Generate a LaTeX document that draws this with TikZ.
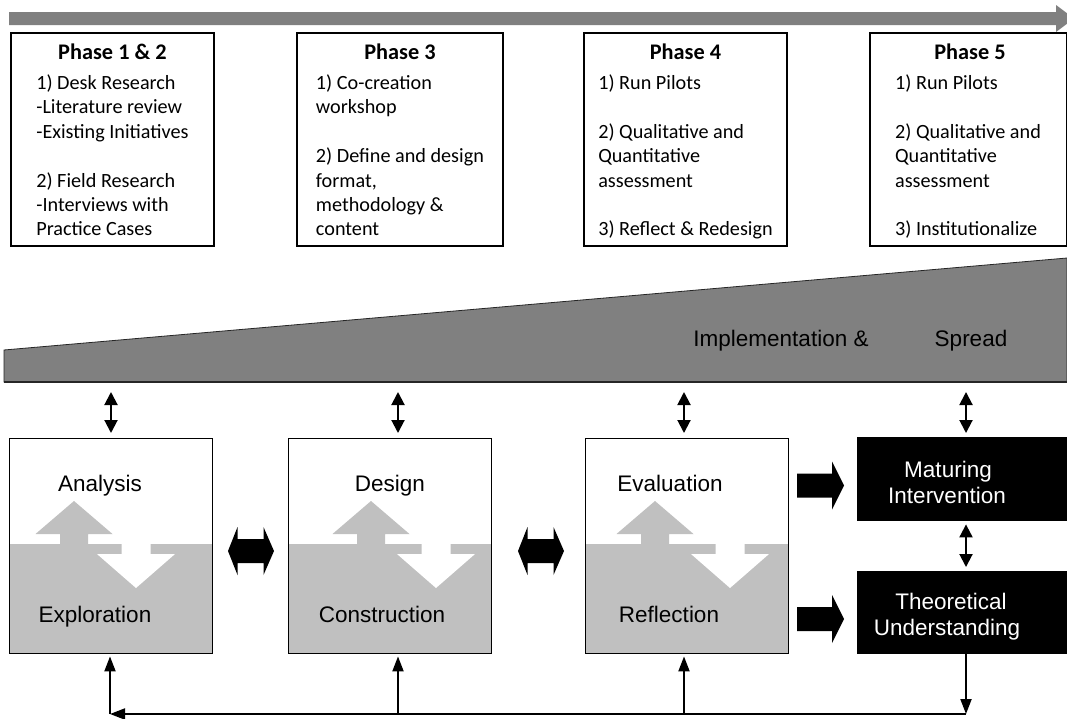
\documentclass[tikz,border=0pt]{standalone}
\usepackage{fontspec}
\setmainfont{Carlito}
\newfontfamily\arialf{Liberation Sans}
\usetikzlibrary{arrows.meta,calc}
\definecolor{bargray}{HTML}{808080}
\definecolor{lightgray}{HTML}{C0C0C0}
\begin{document}
\begin{tikzpicture}[x=1pt,y=-1pt,
  phasebox/.style={draw=black,line width=1.9pt,fill=white,anchor=north west,inner sep=0pt,minimum height=213pt},
  phasetitle/.style={anchor=base,font=\fontsize{22.3}{26}\selectfont\bfseries,inner sep=0pt},
  phasetext/.style={anchor=base,font=\fontsize{20.2}{24.4}\selectfont,inner sep=0pt},
  cyclebox/.style={draw=black,line width=1.4pt,anchor=north west,inner sep=0pt,minimum width=203pt,minimum height=215pt},
  lbl/.style={anchor=base,font=\arialf\fontsize{22.5}{26}\selectfont,inner sep=0pt},
  wlbl/.style={lbl,text=white},
  blackbox/.style={fill=black,anchor=north west,inner sep=0pt,minimum width=218pt},
  dblarrow/.style={line width=2pt,{Triangle[width=13pt,length=13pt]}-{Triangle[width=13pt,length=13pt]}},
  onearrow/.style={line width=2pt,-{Triangle[width=11pt,length=15pt]}},
  fatarrow/.style={fill=black}
]
\useasboundingbox (0,0) rectangle (1067,718);
\fill[white] (0,0) rectangle (1067,718);

% top progress arrow
\fill[bargray] (9,12) -- (1056,12) -- (1056,5) -- (1074,18.5) -- (1056,32) -- (1056,25) -- (9,25) -- cycle;

% phase boxes
\node[phasebox,minimum width=203pt] (p1) at (10,32) {};
\node[phasebox,minimum width=206pt] (p3) at (296,32) {};
\node[phasebox,minimum width=203pt] (p4) at (583,32) {};
\node[phasebox,minimum width=197pt] (p5) at (869,32) {};

\node[phasetitle] (p1t) at (p1.north |- 0,59.5) {Phase 1 \& 2};
\node[phasetitle] (p3t) at (p3.north |- 0,59.5) {Phase 3};
\node[phasetitle] (p4t) at (p4.north |- 0,59.5) {Phase 4};
\node[phasetitle] (p5t) at (970,59.5) {Phase 5};

\node[phasetext] (p1b) at (p1.north |- 0,89.5) {\begin{tabular}[t]{@{}l@{}}1) Desk Research\\ -Literature review\\ -Existing Initiatives\\ \\ 2) Field Research\\ -Interviews with\\ Practice Cases\end{tabular}};
\node[phasetext] (p3b) at (p3.north |- 0,89.5) {\begin{tabular}[t]{@{}l@{}}1) Co-creation\\ workshop\\ \\ 2) Define and design\\ format,\\ methodology \&\\ content\end{tabular}};
\node[phasetext] (p4b) at (p4.north |- 0,89.5) {\begin{tabular}[t]{@{}l@{}}1) Run Pilots\\ \\ 2) Qualitative and\\ Quantitative\\ assessment\\ \\ 3) Reflect \& Redesign\end{tabular}};
\node[phasetext] (p5b) at (968,89.5) {\begin{tabular}[t]{@{}l@{}}1) Run Pilots\\ \\ 2) Qualitative and\\ Quantitative\\ assessment\\ \\ 3) Institutionalize\end{tabular}};

% wedge
\filldraw[fill=bargray,draw=black!85,line width=0.8pt] (4,382) -- (4,350) -- (1067,258) -- (1067,382) -- cycle;
\draw[black!85,line width=1.6pt] (4,382) -- (1067,382);
\node[lbl] (impl) at (781,346) {Implementation \&};
\node[lbl] (spread) at (971,346) {Spread};

% cycle boxes: fills and inner arrows
\foreach \bx/\ux/\dx in {9/74/136, 288/371/436, 585/655/730}{
  \fill[lightgray] (\bx,544) rectangle (\bx+203,653);
  \fill[lightgray] (\ux,501) -- (\ux+38.5,534) -- (\ux+14,534) -- (\ux+14,545) -- (\ux-14,545) -- (\ux-14,534) -- (\ux-38.5,534) -- cycle;
  \fill[white] (\dx-14.5,543.5) -- (\dx+14.5,543.5) -- (\dx+14.5,554) -- (\dx+39,554) -- (\dx,588) -- (\dx-39,554) -- (\dx-14.5,554) -- cycle;
}
\node[cyclebox] (b1) at (9,438) {};
\node[cyclebox] (b2) at (288,438) {};
\node[cyclebox] (b3) at (585,438) {};

\node[lbl] (analysis) at (100,491) {Analysis};
\node[lbl] (design) at (390,491) {Design};
\node[lbl] (evaluation) at (670,491) {Evaluation};
\node[lbl] (exploration) at (95,622) {Exploration};
\node[lbl] (construction) at (382,622) {Construction};
\node[lbl] (reflection) at (669,622) {Reflection};

% black boxes
\node[blackbox,minimum height=84pt] (mi) at (857,437) {};
\node[blackbox,minimum height=83pt] (tu) at (857,571) {};
\node[wlbl] (mi1) at (948,477) {Maturing};
\node[wlbl] (mi2) at (947,503.5) {Intervention};
\node[wlbl] (tu1) at (951,609) {Theoretical};
\node[wlbl] (tu2) at (947,635) {Understanding};

% fat double arrows between cycle boxes
\foreach \cx in {251,541}{
  \fill[fatarrow] (\cx-23,551) -- (\cx-13.5,527) -- (\cx-13.5,539) -- (\cx+12.5,539) -- (\cx+12.5,527) -- (\cx+23,551) -- (\cx+12.5,575) -- (\cx+12.5,563) -- (\cx-13.5,563) -- (\cx-13.5,575) -- cycle;
}
% fat arrows to black boxes
\foreach \cy in {485.5,619}{
  \fill[fatarrow] (797,\cy-12) -- (832,\cy-12) -- (832,\cy-24) -- (844,\cy) -- (832,\cy+24) -- (832,\cy+12) -- (797,\cy+12) -- cycle;
}

% thin double arrows from wedge
\coordinate (t1) at (111,392);
\coordinate (t2) at (398,392);
\coordinate (t3) at (684,392);
\coordinate (t4) at (966,392);
\draw[dblarrow,shorten >=5pt] (t1) -- (t1 |- b1.north);
\draw[dblarrow,shorten >=5pt] (t2) -- (t2 |- b2.north);
\draw[dblarrow,shorten >=5pt] (t3) -- (t3 |- b3.north);
\draw[dblarrow,shorten >=4pt] (t4) -- (t4 |- mi.north);
\draw[dblarrow,shorten <=3pt,shorten >=4pt] (mi.south -| t4) -- (tu.north -| t4);

% feedback loop
\coordinate (f4) at (966,714);
\coordinate (f1) at (110,714);
\coordinate (f2) at (398,714);
\coordinate (f3) at (684,714);
\draw[onearrow] (tu.south -| f4) -- (f4);
\draw[onearrow] (f4) -- (f1);
\draw[onearrow,shorten >=2pt] (f1) -- (f1 |- b1.south);
\draw[onearrow,shorten >=2pt] (f2) -- (f2 |- b2.south);
\draw[onearrow,shorten >=2pt] (f3) -- (f3 |- b3.south);
\end{tikzpicture}
\end{document}
